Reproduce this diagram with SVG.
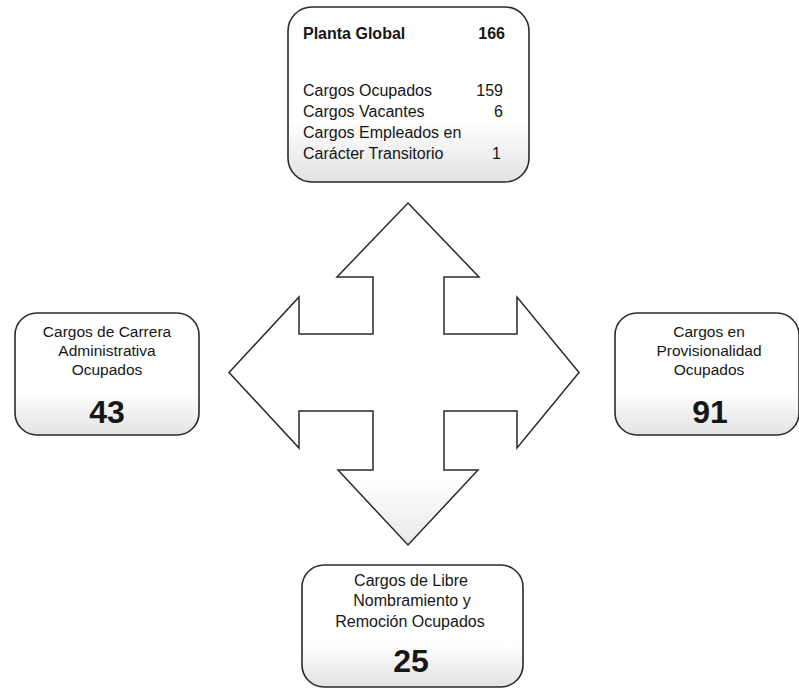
<svg xmlns="http://www.w3.org/2000/svg" width="799" height="688" viewBox="0 0 799 688">
  <defs>
    <linearGradient id="boxFill" x1="0" y1="0" x2="0" y2="1">
      <stop offset="0" stop-color="#ffffff"/>
      <stop offset="0.65" stop-color="#ffffff"/>
      <stop offset="1" stop-color="#e2e2e2"/>
    </linearGradient>
    <linearGradient id="crossFill" x1="0" y1="0" x2="0" y2="1">
      <stop offset="0" stop-color="#ffffff"/>
      <stop offset="0.8" stop-color="#ffffff"/>
      <stop offset="1" stop-color="#e8e8e8"/>
    </linearGradient>
    <style>
      .box { fill: url(#boxFill); stroke: #2a2a2a; stroke-width: 1.6; }
      .cross { fill: url(#crossFill); stroke: #2a2a2a; stroke-width: 1.5; stroke-linejoin: miter; }
      .t { font-family: "Liberation Sans", Arial, sans-serif; fill: #161616; }
      .r16 { font-size: 16px; }
      .r15 { font-size: 15.5px; }
      .b16 { font-size: 16px; font-weight: bold; }
      .big { font-size: 32px; font-weight: bold; }
      .c { text-anchor: middle; }
      .e { text-anchor: end; }
    </style>
  </defs>
  <rect width="799" height="688" fill="#ffffff"/>

  <g id="connectors">
    <polygon class="cross" points="408,203 479,277 444,277 444,334 517,334 517,297 579,372.5 517,448 517,411 444,411 444,470 478,470 408,545 338,470 373,470 373,411 299,411 299,448 229,372.5 299,297 299,334 373,334 373,277 337,277"/>
  </g>

  <g id="planta-global">
    <rect class="box" x="288" y="7" width="241" height="175" rx="24" ry="24"/>
    <text class="t b16" x="303" y="39">Planta Global</text>
    <text class="t b16 e" x="505" y="39">166</text>
    <text class="t r16" x="303" y="96">Cargos Ocupados</text>
    <text class="t r16 e" x="503" y="96">159</text>
    <text class="t r16" x="303" y="117">Cargos Vacantes</text>
    <text class="t r16 e" x="503" y="117">6</text>
    <text class="t r16" x="303" y="138">Cargos Empleados en</text>
    <text class="t r16" x="303" y="159">Carácter Transitorio</text>
    <text class="t r16 e" x="501" y="159">1</text>
  </g>

  <g id="carrera-administrativa">
    <rect class="box" x="15" y="313" width="184" height="122" rx="22" ry="22"/>
    <text class="t r15 c" x="107" y="337">Cargos de Carrera</text>
    <text class="t r15 c" x="107" y="356">Administrativa</text>
    <text class="t r15 c" x="107" y="375">Ocupados</text>
    <text class="t big c" x="107" y="423">43</text>
  </g>

  <g id="provisionalidad">
    <rect class="box" x="615" y="313" width="184" height="122" rx="22" ry="22"/>
    <text class="t r15 c" x="709" y="337">Cargos en</text>
    <text class="t r15 c" x="709" y="356">Provisionalidad</text>
    <text class="t r15 c" x="709" y="375">Ocupados</text>
    <text class="t big c" x="710" y="423">91</text>
  </g>

  <g id="libre-nombramiento">
    <rect class="box" x="302" y="565" width="221" height="122" rx="22" ry="22"/>
    <text class="t r16 c" x="411" y="586">Cargos de Libre</text>
    <text class="t r16 c" x="412" y="606">Nombramiento y</text>
    <text class="t r16 c" x="410" y="627">Remoción Ocupados</text>
    <text class="t big c" x="411" y="672">25</text>
  </g>
</svg>
